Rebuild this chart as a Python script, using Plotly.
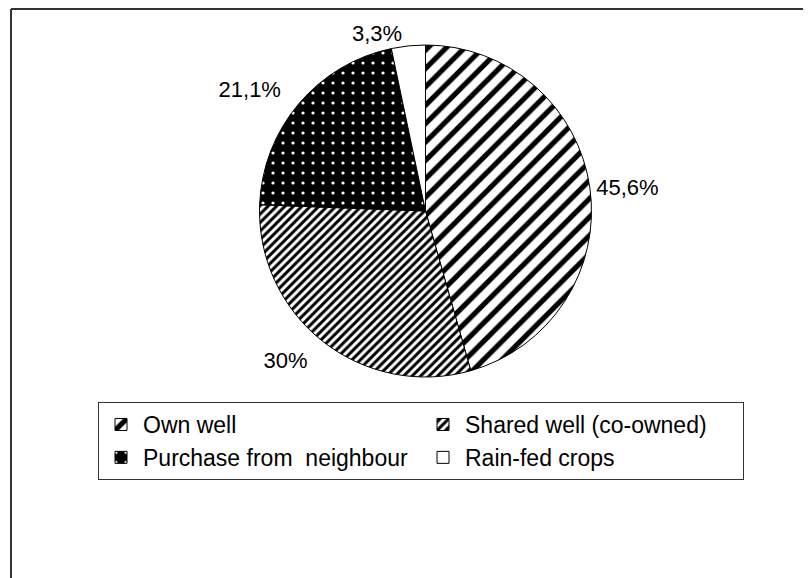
import plotly.graph_objects as go

sources = ["Own well", "Shared well (co-owned)", "Purchase from  neighbour", "Rain-fed crops"]
shares = [45.6, 30, 21.1, 3.3]

W, H = 811, 578
OFF = 8  # page body margin in the browser shot
font_family = "Liberation Sans, Arial, sans-serif"


def px(x):
    return (x - OFF) / W


def py(y):
    return 1 - (y - OFF) / H


# pie geometry (screen px)
cx, cy, R = 425.5, 211, 166
R_lab = R * 1.09  # the two lower-left labels sit a bit further out

patterns = [
    dict(shape="/", fgcolor="black", bgcolor="white", size=13, solidity=0.4),
    dict(shape="/", fgcolor="black", bgcolor="white", size=6, solidity=0.5),
    dict(shape=".", fgcolor="white", bgcolor="black", size=10, solidity=0.08),
    dict(shape="", fgcolor="black", bgcolor="white", size=8, solidity=0.3),
]

pie = go.Pie(
    labels=sources,
    values=shares,
    sort=False,
    direction="clockwise",
    rotation=0,
    texttemplate=["%{value}%", "", "", "%{value}%"],
    textposition="outside",
    textfont=dict(family=font_family, size=22, color="black"),
    marker=dict(
        colors=["white"] * 4,
        line=dict(color="black", width=1),
        pattern=dict(
            shape=[p["shape"] for p in patterns],
            fgcolor=[p["fgcolor"] for p in patterns],
            bgcolor=[p["bgcolor"] for p in patterns],
            size=[p["size"] for p in patterns],
            solidity=[p["solidity"] for p in patterns],
        ),
    ),
    domain=dict(x=[px(cx - R), px(cx + R)], y=[py(cy + R), py(cy - R)]),
    hoverinfo="label+percent",
)

# transparent twin pie, only used to carry the outer labels
pie_labels = go.Pie(
    labels=sources,
    values=shares,
    sort=False,
    direction="clockwise",
    rotation=0,
    texttemplate=["", "%{value}%", "%{value}%", ""],
    textposition="outside",
    textfont=dict(family=font_family, size=22, color="black"),
    marker=dict(colors=["rgba(0,0,0,0)"] * 4, line=dict(width=0)),
    domain=dict(x=[px(cx - R_lab), px(cx + R_lab)], y=[py(cy + R_lab), py(cy - R_lab)]),
    showlegend=False,
    hoverinfo="skip",
)

fig = go.Figure(data=[pie_labels, pie])

fig.update_layout(
    width=W,
    height=H,
    separators=",.",
    margin=dict(l=0, r=0, t=0, b=0),
    paper_bgcolor="white",
    plot_bgcolor="white",
    font=dict(family=font_family, size=22, color="black"),
    showlegend=True,
    legend=dict(
        orientation="h",
        x=px(98),
        xanchor="left",
        y=py(402),
        yanchor="top",
        itemwidth=34,
        entrywidth=273,
        bordercolor="#333",
        borderwidth=1,
        bgcolor="white",
        font=dict(family=font_family, size=23, color="black"),
        traceorder="normal",
    ),
    shapes=[
        dict(type="line", xref="paper", yref="paper",
             x0=px(11), x1=1.02, y0=py(9), y1=py(9),
             line=dict(color="#333", width=2)),
        dict(type="line", xref="paper", yref="paper",
             x0=px(11), x1=px(11), y0=-0.02, y1=py(9),
             line=dict(color="#333", width=2)),
    ],
)

fig.write_html("out.html")
